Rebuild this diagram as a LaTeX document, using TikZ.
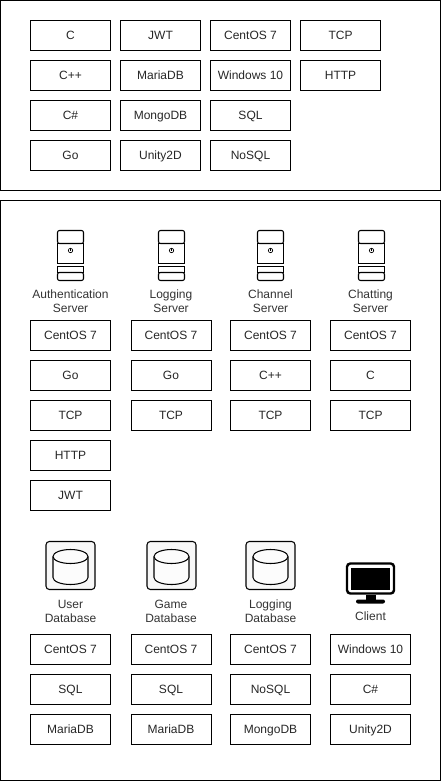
\documentclass[tikz,border=0pt]{standalone}
\usepackage{fontspec}
\setmainfont{Liberation Sans}
\tikzset{
  techbox/.style={draw,line width=0.65pt,minimum width=60pt,minimum height=22.5pt,inner sep=0pt,text height=6.5pt,text depth=0pt,font=\fontsize{9}{9}\selectfont,text=black!85},
  caption/.style={align=center,inner sep=0pt,font=\fontsize{9}{10.5}\selectfont,text=black!80},
  panel/.style={draw,line width=0.65pt},
  server/.pic={
    \draw[line width=0.8pt,rounded corners=1.5pt] (-13,-7) -- (-13,-20) -- (13,-20) -- (13,-7) -- cycle;
    \draw[line width=0.8pt] (-13,-7) rectangle (13,13);
    \draw[line width=0.8pt] (-13,16) rectangle (13,22);
    \draw[line width=0.8pt,rounded corners=1.5pt] (-13,22) -- (-13,30) -- (13,30) -- (13,22) -- cycle;
    \draw[line width=0.5pt] (0,0) circle (2.2);
    \draw[line width=0.5pt] (0,-2.8) -- (0,0);
  },
  database/.pic={
    \draw[line width=0.8pt,fill=black!3,rounded corners=2.5pt] (-24.5,-24) rectangle (24.5,24);
    \draw[line width=0.8pt,fill=black!1] (-17.5,-9) -- (-17.5,12) arc[start angle=180,end angle=0,x radius=17.5,y radius=7] -- (17.5,-9);
    \draw[line width=0.8pt,fill=black!1] (0,-9) ellipse (17.5 and 7);
  },
  monitor/.pic={
    \draw[line width=1.8pt,rounded corners=2.5pt] (-23.5,-15) rectangle (23.5,15);
    \fill (-19.5,-11) rectangle (19.5,11);
    \fill (-5,16) rectangle (5,22);
    \fill[rounded corners=1.5pt] (-14.5,21) rectangle (14.5,25);
  }
}
\begin{document}
\begin{tikzpicture}[x=0.75pt,y=-0.75pt]
\useasboundingbox (0,0) rectangle (441,781);

% upper panel
\draw[panel] (0.5,0.5) rectangle (440.5,190.5);
\node[techbox] (langc) at (70.5,35.5) {C};
\node[techbox] (langcpp) at (70.5,75.5) {C++};
\node[techbox] (langcs) at (70.5,115.5) {C\#};
\node[techbox] (langgo) at (70.5,155.5) {Go};
\node[techbox] (jwt) at (160.5,35.5) {JWT};
\node[techbox] (maria) at (160.5,75.5) {MariaDB};
\node[techbox] (mongo) at (160.5,115.5) {MongoDB};
\node[techbox] (unity) at (160.5,155.5) {Unity2D};
\node[techbox] (centos) at (250.5,35.5) {CentOS 7};
\node[techbox] (windows) at (250.5,75.5) {Windows 10};
\node[techbox] (sql) at (250.5,115.5) {SQL};
\node[techbox] (nosql) at (250.5,155.5) {NoSQL};
\node[techbox] (tcp) at (340.5,35.5) {TCP};
\node[techbox] (http) at (340.5,75.5) {HTTP};

% lower panel
\draw[panel] (0.5,200.5) rectangle (440.5,780.5);

% servers
\pic at (70.5,250.5) {server};
\pic at (171.5,250.5) {server};
\pic at (270.5,250.5) {server};
\pic at (371.5,250.5) {server};
\node[caption] (authcap) at (70.5,301) {Authentication\\Server};
\node[caption] (logcap) at (171,301) {Logging\\Server};
\node[caption] (chancap) at (270.5,301) {Channel\\Server};
\node[caption] (chatcap) at (370.5,301) {Chatting\\Server};

\node[techbox] (auth1) at (70.5,335.5) {CentOS 7};
\node[techbox] (auth2) at (70.5,375.5) {Go};
\node[techbox] (auth3) at (70.5,415.5) {TCP};
\node[techbox] (auth4) at (70.5,455.5) {HTTP};
\node[techbox] (auth5) at (70.5,495.5) {JWT};
\node[techbox] (log1) at (171,335.5) {CentOS 7};
\node[techbox] (log2) at (171,375.5) {Go};
\node[techbox] (log3) at (171,415.5) {TCP};
\node[techbox] (chan1) at (270.5,335.5) {CentOS 7};
\node[techbox] (chan2) at (270.5,375.5) {C++};
\node[techbox] (chan3) at (270.5,415.5) {TCP};
\node[techbox] (chat1) at (370.5,335.5) {CentOS 7};
\node[techbox] (chat2) at (370.5,375.5) {C};
\node[techbox] (chat3) at (370.5,415.5) {TCP};

% databases and client
\pic at (70.5,565.5) {database};
\pic at (171.5,565.5) {database};
\pic at (270.5,565.5) {database};
\pic at (370.5,578.5) {monitor};
\node[caption] (usercap) at (70.5,611) {User\\Database};
\node[caption] (gamecap) at (171,611) {Game\\Database};
\node[caption] (logdbcap) at (270.5,611) {Logging\\Database};
\node[caption] (clientcap) at (370.5,616) {Client};

\node[techbox] (user1) at (70.5,649.5) {CentOS 7};
\node[techbox] (user2) at (70.5,689.5) {SQL};
\node[techbox] (user3) at (70.5,729.5) {MariaDB};
\node[techbox] (game1) at (171,649.5) {CentOS 7};
\node[techbox] (game2) at (171,689.5) {SQL};
\node[techbox] (game3) at (171,729.5) {MariaDB};
\node[techbox] (logdb1) at (270.5,649.5) {CentOS 7};
\node[techbox] (logdb2) at (270.5,689.5) {NoSQL};
\node[techbox] (logdb3) at (270.5,729.5) {MongoDB};
\node[techbox] (client1) at (370.5,649.5) {Windows 10};
\node[techbox] (client2) at (370.5,689.5) {C\#};
\node[techbox] (client3) at (370.5,729.5) {Unity2D};

\end{tikzpicture}
\end{document}
